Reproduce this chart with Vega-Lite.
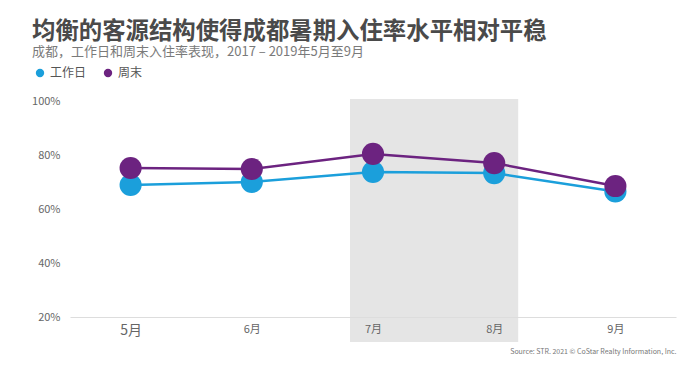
{
  "$schema": "https://vega.github.io/schema/vega-lite/v6.json",
  "width": 606,
  "height": 216,
  "autosize": "none",
  "padding": {"left": 70, "top": 101, "right": 24, "bottom": 50},
  "background": "white",
  "config": {
    "font": "Noto Sans CJK SC",
    "view": {"stroke": null}
  },
  "title": {
    "text": "均衡的客源结构使得成都暑期入住率水平相对平稳",
    "subtitle": "成都，工作日和周末入住率表现，2017 – 2019年5月至9月",
    "anchor": "start",
    "frame": "group",
    "dx": -38,
    "offset": 7,
    "fontSize": 23.4,
    "fontWeight": "bold",
    "color": "#4a4a4a",
    "subtitleFontSize": 13,
    "subtitleColor": "#7a7a7a",
    "subtitlePadding": 2
  },
  "datasets": {
    "occ": [
      {"month": "5月", "series": "工作日", "value": 0.689},
      {"month": "6月", "series": "工作日", "value": 0.700},
      {"month": "7月", "series": "工作日", "value": 0.737},
      {"month": "8月", "series": "工作日", "value": 0.733},
      {"month": "9月", "series": "工作日", "value": 0.665},
      {"month": "5月", "series": "周末", "value": 0.752},
      {"month": "6月", "series": "周末", "value": 0.748},
      {"month": "7月", "series": "周末", "value": 0.804},
      {"month": "8月", "series": "周末", "value": 0.770},
      {"month": "9月", "series": "周末", "value": 0.685}
    ],
    "band": [
      {"start": "7月", "end": "8月", "top": 1.007, "bottom": 0.107}
    ]
  },
  "layer": [
    {
      "data": {"name": "band"},
      "mark": {"type": "rect", "xOffset": -23, "x2Offset": 24},
      "encoding": {
        "x": {"field": "start", "type": "ordinal"},
        "x2": {"field": "end"},
        "y": {"field": "top", "type": "quantitative"},
        "y2": {"field": "bottom"},
        "color": {"value": "#e5e5e5"}
      }
    },
    {
      "data": {"name": "occ"},
      "mark": {"type": "line", "strokeWidth": 2.5},
      "encoding": {
        "x": {"field": "month", "type": "ordinal"},
        "y": {"field": "value", "type": "quantitative"},
        "color": {"field": "series", "type": "nominal"}
      }
    },
    {
      "data": {"name": "occ"},
      "mark": {"type": "point", "filled": true, "opacity": 1, "size": 490},
      "encoding": {
        "x": {"field": "month", "type": "ordinal"},
        "y": {"field": "value", "type": "quantitative"},
        "color": {"field": "series", "type": "nominal"}
      }
    }
  ],
  "resolve": {"scale": {"x": "shared", "y": "shared", "color": "shared"}},
  "encoding": {
    "x": {
      "field": "month",
      "type": "ordinal",
      "scale": {"type": "point", "padding": 0.5, "domain": ["5月", "6月", "7月", "8月", "9月"]},
      "axis": {
        "title": "Source: STR. 2021 © CoStar Realty Information, Inc.",
        "titleAnchor": "end",
        "titleFontSize": 7,
        "titleFontWeight": "normal",
        "titleColor": "#777777",
        "titlePadding": 10,
        "labelAngle": 0,
        "labelFontSize": {"condition": {"test": "datum.value == '5月'", "value": 14}, "value": 11},
        "labelColor": "#666666",
        "labelPadding": 6,
        "ticks": false,
        "domainColor": "#dddddd",
        "domainWidth": 1,
        "grid": false
      }
    },
    "y": {
      "field": "value",
      "type": "quantitative",
      "scale": {"domain": [0.2, 1.0], "nice": false, "zero": false},
      "axis": {
        "title": null,
        "format": ".0%",
        "values": [0.2, 0.4, 0.6, 0.8, 1.0],
        "domain": false,
        "ticks": false,
        "grid": false,
        "labelFontSize": 11,
        "labelColor": "#666666",
        "labelPadding": 10
      }
    },
    "color": {
      "field": "series",
      "type": "nominal",
      "scale": {"domain": ["工作日", "周末"], "range": ["#1b9fdb", "#6c2380"]},
      "legend": {
        "title": null,
        "orient": "none",
        "legendX": -36,
        "legendY": -34,
        "direction": "horizontal",
        "symbolType": "circle",
        "symbolSize": 70,
        "symbolOpacity": 1,
        "symbolStrokeWidth": 0,
        "labelFontSize": 12,
        "labelColor": "#555555",
        "columnPadding": 15
      }
    }
  }
}
